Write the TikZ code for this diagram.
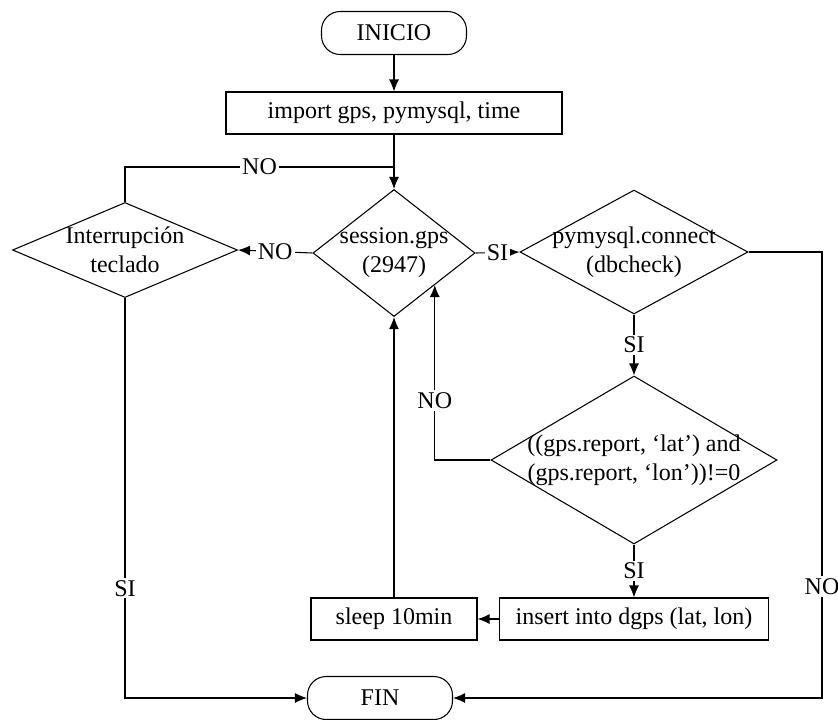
\documentclass[tikz,border=0pt]{standalone}
\usepackage{fontspec}
\setmainfont{Liberation Serif}
\usetikzlibrary{shapes.geometric,arrows.meta}
\tikzset{
  term/.style={draw, rounded corners=14pt, minimum width=108.75pt, minimum height=32.25pt, inner sep=0pt},
  proc/.style={draw, minimum height=31.5pt, inner sep=0pt},
  decision/.style={draw, diamond, align=center, inner sep=-8pt},
  lbl/.style={fill=white, inner sep=1.5pt},
}

\begin{document}
\begin{tikzpicture}[>={Latex[length=9pt,width=7.5pt]}, x=0.75pt, y=-0.75pt, line width=0.8pt, font=\fontsize{18pt}{21.75pt}\selectfont]
\useasboundingbox (0,0) rectangle (838,719);
\node[term] (ini) at (394,33) {INICIO};
\node[proc, minimum width=252pt] (imp) at (394,113) {import gps, pymysql, time};
\node[decision, aspect=1.28, minimum width=121.5pt, minimum height=95.25pt] (sess) at (394,253) {session.gps\\(2947)};
\node[decision, aspect=2.37, minimum width=168.75pt, minimum height=71.25pt] (intr) at (125,250) {Interrupción\\teclado};
\node[decision, aspect=1.84, minimum width=171pt, minimum height=93pt] (pym) at (634,252) {pymysql.connect\\(dbcheck)};
\node[decision, aspect=1.7, minimum width=214.5pt, minimum height=126pt] (lat) at (634,460) {((gps.report, ‘lat’) and\\(gps.report, ‘lon’))!=0};
\node[proc, minimum width=201.75pt] (ins) at (634,619) {insert into dgps (lat, lon)};
\node[proc, minimum width=124.5pt] (slp) at (394,619) {sleep 10min};
\node[term] (fin) at (380,698) {FIN};
\coordinate (mrg) at (394,167);
\coordinate (rt) at (822,252);

\draw[->] (ini) -- (imp);
\draw[->] (imp) -- (sess);
\draw (intr.north) |- node[lbl,pos=0.75]{NO} (mrg);
\draw[->] (sess.west) -- node[lbl]{NO} (intr.east);
\draw[->] (sess.east) -- node[lbl]{SI} (pym.west);
\draw[->] (pym.south) -- node[lbl]{SI} (lat.north);
\draw[->] (lat.west) -| node[lbl,pos=0.67]{NO} (sess.south east);
\draw[->] (lat.south) -- node[lbl]{SI} (ins.north);
\draw[->] (ins) -- (slp);
\draw[->] (slp) -- (sess);
\draw[->] (intr.south) |- node[lbl,pos=0.363]{SI} (fin.west);
\draw[->] (pym.east) -- (rt) |- node[lbl,pos=0.375]{NO} (fin.east);

\end{tikzpicture}
\end{document}
